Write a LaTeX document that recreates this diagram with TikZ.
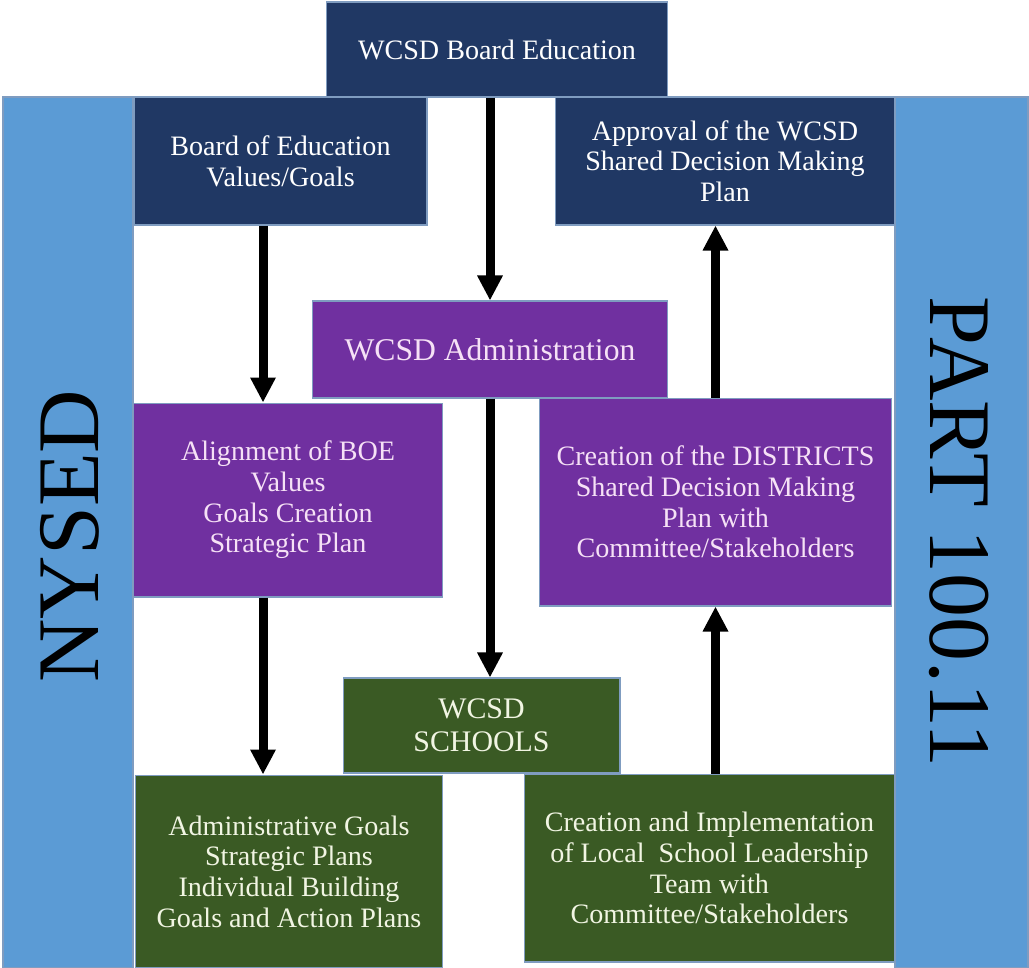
\documentclass[tikz,border=0pt]{standalone}
\usepackage{fontspec}
\setmainfont{Liberation Serif}
\usetikzlibrary{arrows.meta}
\definecolor{navy}{HTML}{203864}
\definecolor{plum}{HTML}{7030A0}
\definecolor{moss}{HTML}{3A5A24}
\definecolor{sky}{HTML}{5B9BD5}
\definecolor{edge}{HTML}{7F9CC0}
\definecolor{pinktext}{HTML}{F6E1F6}
\definecolor{creamtext}{HTML}{F1F5E3}

\begin{document}
\begin{tikzpicture}[
    x=0.02cm, y=-0.02cm,
    box/.style={rectangle, draw=edge, line width=0.6pt, inner sep=0pt, align=center, font=\fontsize{16}{17.5}\selectfont},
    navybox/.style={box, fill=navy, text=white},
    plumbox/.style={box, fill=plum, text=pinktext},
    mossbox/.style={box, fill=moss, text=creamtext},
    band/.style={fill=sky, draw=edge, line width=0.6pt},
    flow/.style={-{Triangle[width=0.48cm, length=0.5cm]}, line width=0.18cm},
    sidetext/.style={font=\fontsize{50}{50}\selectfont, anchor=base, inner sep=0pt}
]
    \useasboundingbox (0,0) rectangle (1029,968);

    % Side bands
    \draw[band] (3,97) rectangle (133,968);
    \draw[band] (895,97) rectangle (1028,968);
    \node[sidetext, rotate=90] at (98,536) (nysed) {NYSED};
    \node[sidetext, rotate=-90] at (930,532) (part) {PART 100.11};

    % Board level
    \node[navybox, minimum width=6.84cm, minimum height=1.9cm] at (497,49.5) (board) {WCSD Board Education};
    \node[navybox, minimum width=5.86cm, minimum height=2.56cm] at (280.5,161) (values) {Board of Education\\Values/Goals};
    \node[navybox, minimum width=6.8cm, minimum height=2.56cm] at (725,161) (approval) {Approval of the WCSD\\Shared Decision Making\\Plan};

    % Administration level
    \node[plumbox, minimum width=7.12cm, minimum height=1.94cm, font=\fontsize{18}{20}\selectfont] at (490,349.5) (admin) {WCSD Administration};
    \node[plumbox, minimum width=6.2cm, minimum height=3.88cm] at (288,500) (align) {Alignment of BOE\\Values\\Goals Creation\\Strategic Plan};
    \node[plumbox, minimum width=7.06cm, minimum height=4.16cm] at (715.5,502) (district) {Creation of the DISTRICTS\\Shared Decision Making\\Plan with\\Committee/Stakeholders};

    % Schools level
    \node[mossbox, minimum width=5.54cm, minimum height=1.9cm, font=\fontsize{17}{19}\selectfont] at (481.5,725.5) (schools) {WCSD\\SCHOOLS};
    \node[mossbox, minimum width=6.16cm, minimum height=3.86cm] at (289,871.5) (goals) {Administrative Goals\\Strategic Plans\\Individual Building\\Goals and Action Plans};
    \node[mossbox, minimum width=7.42cm, minimum height=3.76cm] at (709.5,868) (leader) {Creation and Implementation\\of Local~ School Leadership\\Team with\\Committee/Stakeholders};

    % Flow
    \draw[flow] (admin.north |- board.south) -- (admin.north);
    \draw[flow] ([xshift=-0.35cm]values.south) -- ([xshift=-0.35cm]values.south |- align.north);
    \draw[flow] ([xshift=-0.5cm]align.south) -- ([xshift=-0.5cm]align.south |- goals.north);
    \draw[flow] (admin.south) -- (admin.south |- schools.north);
    \draw[flow] (district.south |- leader.north) -- (district.south);
    \draw[flow] (district.north) -- (district.north |- approval.south);
\end{tikzpicture}
\end{document}
